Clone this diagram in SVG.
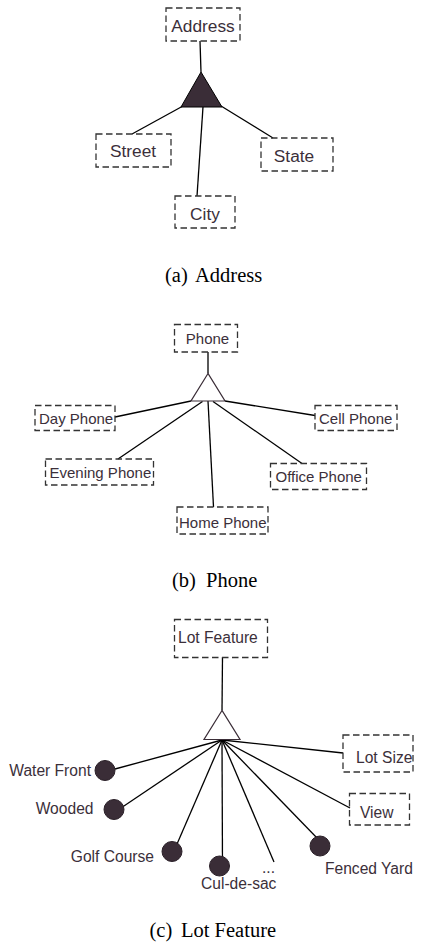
<svg xmlns="http://www.w3.org/2000/svg" width="423" height="945" viewBox="0 0 423 945">
<style>
.box{fill:none;stroke:#333;stroke-width:1.3;stroke-dasharray:6.5 3.5}
.lbl{font-family:"Liberation Sans",Arial,sans-serif;fill:#3b2f3a}
.a{font-size:17.3px}
.b{font-size:15px}
.c{font-size:15.6px}
.cap{font-family:"Liberation Serif","Times New Roman",serif;font-size:20.5px;fill:#000}
.ln{stroke:#000;stroke-width:1.3;fill:none}
.tri{fill:#3a2d37;stroke:#000;stroke-width:1}
.tri2{fill:#fff;stroke:#3a2d37;stroke-width:1.2}
.dot{fill:#3a2d37;stroke:#2a2028;stroke-width:1}
</style>
<g id="connectors">
<line class="ln" x1="200" y1="41" x2="201" y2="72"/>
<line class="ln" x1="183" y1="106" x2="132" y2="134"/>
<line class="ln" x1="203" y1="107" x2="197" y2="196"/>
<line class="ln" x1="221" y1="106" x2="273" y2="138"/>
<line class="ln" x1="208" y1="352" x2="208" y2="373.5"/>
<line class="ln" x1="191" y1="401" x2="115" y2="417"/>
<line class="ln" x1="225" y1="401" x2="315" y2="415.5"/>
<line class="ln" x1="202.5" y1="401.5" x2="118" y2="459"/>
<line class="ln" x1="213" y1="401.5" x2="302" y2="463.5"/>
<line class="ln" x1="208" y1="401" x2="213.5" y2="507"/>
<line class="ln" x1="222.5" y1="657" x2="222" y2="710.5"/>
<line class="ln" x1="222" y1="740" x2="343" y2="753"/>
<line class="ln" x1="222" y1="740" x2="350" y2="808"/>
<line class="ln" x1="222" y1="740" x2="115" y2="769"/>
<line class="ln" x1="222" y1="740" x2="118" y2="810"/>
<line class="ln" x1="222" y1="740" x2="174" y2="851"/>
<line class="ln" x1="222" y1="740" x2="222.5" y2="867"/>
<line class="ln" x1="222" y1="740" x2="274" y2="862"/>
<line class="ln" x1="222" y1="740" x2="318" y2="839"/>
</g>
<g id="address">
<rect class="box" x="166" y="8" width="74" height="33"/>
<text class="lbl a" x="203" y="32" text-anchor="middle">Address</text>
</g>
<g id="address-tri"><polygon class="tri" points="201,72 181,107 222,107"/></g>
<g id="street">
<rect class="box" x="96" y="134" width="75" height="33"/>
<text class="lbl a" x="133" y="157" text-anchor="middle">Street</text>
</g>
<g id="city">
<rect class="box" x="175" y="196" width="60" height="32"/>
<text class="lbl a" x="205" y="220" text-anchor="middle">City</text>
</g>
<g id="state">
<rect class="box" x="261" y="138" width="72" height="33"/>
<text class="lbl a" x="294" y="162" text-anchor="middle">State</text>
</g>
<text class="cap" x="165" y="282">(a)</text>
<text class="cap" x="195" y="282">Address</text>

<g id="phone">
<rect class="box" x="174.5" y="324.5" width="63" height="27.5"/>
<text class="lbl b" x="207.5" y="344" text-anchor="middle">Phone</text>
</g>
<g id="phone-tri"><polygon class="tri2" points="208,373.5 191,401 225,401"/></g>
<g id="day-phone">
<rect class="box" x="35" y="405.5" width="80" height="25"/>
<text class="lbl b" x="39" y="423.5">Day Phone</text>
</g>
<g id="cell-phone">
<rect class="box" x="315" y="405.5" width="82" height="25"/>
<text class="lbl b" x="319" y="423.5">Cell Phone</text>
</g>
<g id="evening-phone">
<rect class="box" x="45.5" y="459" width="108" height="26"/>
<text class="lbl b" x="49.5" y="477.5">Evening Phone</text>
</g>
<g id="office-phone">
<rect class="box" x="270.5" y="463.5" width="96" height="26"/>
<text class="lbl b" x="275.5" y="482">Office Phone</text>
</g>
<g id="home-phone">
<rect class="box" x="177" y="507" width="91" height="27"/>
<text class="lbl b" x="179" y="527.5">Home Phone</text>
</g>
<text class="cap" x="172" y="587">(b)</text>
<text class="cap" x="206" y="587">Phone</text>

<g id="lot-feature">
<rect class="box" x="174.5" y="619.5" width="93" height="38"/>
<text class="lbl c" x="178" y="643">Lot Feature</text>
</g>
<g id="lot-tri"><polygon class="tri2" points="222,710.5 204,739.5 240,739.5"/></g>
<g id="lot-size">
<rect class="box" x="343" y="735" width="70" height="37"/>
<text class="lbl c" x="356" y="763">Lot Size</text>
</g>
<g id="view">
<rect class="box" x="349.5" y="793.5" width="60" height="31.5"/>
<text class="lbl c" x="360" y="817.5">View</text>
</g>
<g id="water-front">
<circle class="dot" cx="105" cy="770.5" r="10"/>
<text class="lbl c" x="91" y="776" text-anchor="end">Water Front</text>
</g>
<g id="wooded">
<circle class="dot" cx="114" cy="809.5" r="10"/>
<text class="lbl c" x="93.5" y="814" text-anchor="end">Wooded</text>
</g>
<g id="golf-course">
<circle class="dot" cx="172" cy="851.5" r="10"/>
<text class="lbl c" x="154" y="861.5" text-anchor="end">Golf Course</text>
</g>
<g id="cul-de-sac">
<circle class="dot" cx="219.5" cy="866" r="10"/>
<text class="lbl c" x="201" y="889">Cul-de-sac</text>
</g>
<g id="more"><text class="lbl c" x="262" y="873">...</text></g>
<g id="fenced-yard">
<circle class="dot" cx="320" cy="846" r="10"/>
<text class="lbl c" x="325" y="873.5">Fenced Yard</text>
</g>
<text class="cap" x="149.5" y="937">(c)</text>
<text class="cap" x="181" y="937">Lot Feature</text>
</svg>
